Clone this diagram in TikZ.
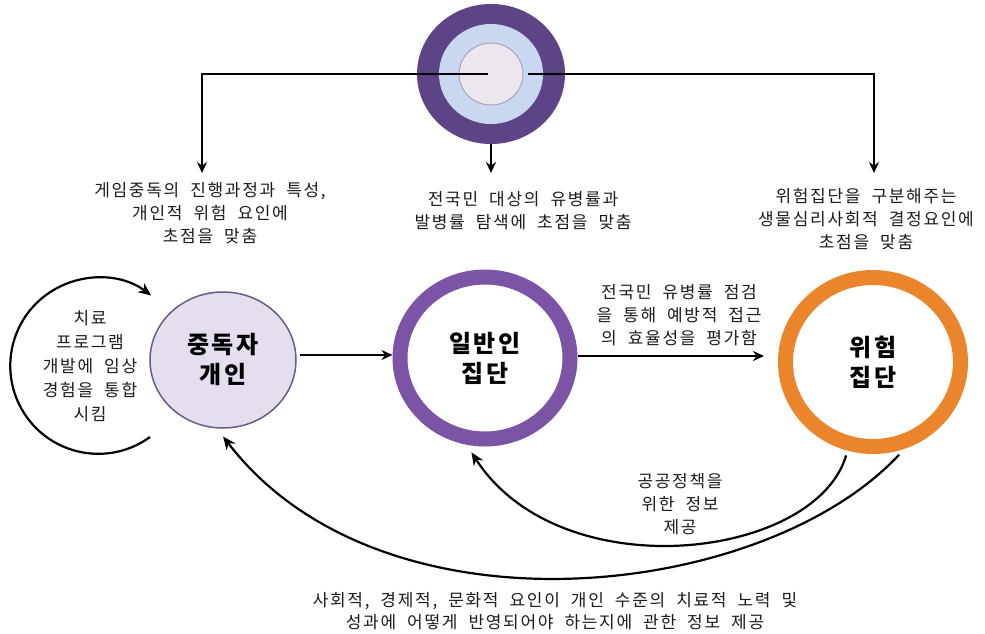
\documentclass[tikz,border=0pt]{standalone}
\usepackage{fontspec}
\setmainfont{Noto Sans CJK KR}[LetterSpace=10,WordSpace=2]
\usetikzlibrary{arrows.meta,shapes.geometric}
\definecolor{topouter}{HTML}{5C4486}
\definecolor{topmid}{HTML}{C9D8F0}
\definecolor{topinner}{HTML}{ECE6EF}
\definecolor{topinedge}{HTML}{A9A2B8}
\definecolor{addictfill}{HTML}{E5DEEE}
\definecolor{addictedge}{HTML}{6C5B86}
\definecolor{genring}{HTML}{7B54A6}
\definecolor{riskring}{HTML}{EA852C}
\definecolor{txtcol}{HTML}{1C1C1C}
\tikzset{
  txt/.style={align=center,font=\fontsize{17}{23}\selectfont,text=txtcol,inner sep=0pt},
  big/.style={align=center,font=\fontsize{24}{30}\selectfont\bfseries,text=black},
  arr/.style={-{Stealth[length=11pt,width=10pt]},line width=1.8pt},
  carr/.style={-{Stealth[length=13pt,width=11pt]},line width=2.2pt},
}
\begin{document}
\begin{tikzpicture}[x=1pt,y=-1pt]
\useasboundingbox (0,0) rectangle (985,633);
\fill[white] (0,0) rectangle (985,633);
% top circle
\node[ellipse,fill=topouter,minimum width=148pt,minimum height=140pt,inner sep=0pt] (top) at (491,74) {};
\node[ellipse,fill=topmid,minimum width=104pt,minimum height=100pt,inner sep=0pt] (topmidc) at (491,74) {};
\node[ellipse,fill=topinner,draw=topinedge,line width=1pt,minimum width=64pt,minimum height=62pt,inner sep=0pt] (topin) at (491,74) {};
% main nodes
\node[ellipse,draw=addictedge,fill=addictfill,line width=1.5pt,minimum width=146pt,minimum height=136pt,inner sep=0pt,big] (addict) at (223,360) {중독자\\개인};
\node[ellipse,draw=genring,line width=15pt,minimum width=170pt,minimum height=162pt,inner sep=0pt,big] (general) at (485,358) {일반인\\집단};
\node[ellipse,draw=riskring,line width=15pt,minimum width=175pt,minimum height=169pt,inner sep=0pt,big] (risk) at (873,362) {위험\\집단};
% texts
\node[txt] (lefttext) at (210,213) {게임중독의 진행과정과 특성,\\개인적 위험 요인에\\초점을 맞춤};
\node[txt] (midtext) at (523,211) {전국민 대상의 유병률과\\발병률 탐색에 초점을 맞춤};
\node[txt] (righttext) at (866,219) {위험집단을 구분해주는\\생물심리사회적 결정요인에\\초점을 맞춤};
\node[txt,font=\fontsize{17}{24}\selectfont] (looptext) at (90,366) {치료\\프로그램\\개발에 임상\\경험을 통합\\시킴};
\node[txt] (arrowtext) at (679,315) {전국민 유병률 점검\\을 통해 예방적 접근\\의 효율성을 평가함};
\node[txt] (policy) at (680,504) {공공정책을\\위한 정보\\제공};
\node[txt,font=\fontsize{17}{22}\selectfont] (bottomtext) at (555,611) {사회적, 경제적, 문화적 요인이 개인 수준의 치료적 노력 및\\성과에 어떻게 반영되어야 하는지에 관한 정보 제공};
% top connectors
\coordinate (ltip) at (202,173);
\coordinate (rtip) at (874,173);
\coordinate (mtip) at (491,173);
\draw[arr] ([xshift=-3pt]top.center) -| (ltip);
\draw[arr] ([xshift=37pt]top.center) -| (rtip);
\draw[arr] (top.south) -- (mtip);
% horizontal arrows
\draw[arr] ([xshift=3pt,yshift=5pt]addict.east) -- ([yshift=3pt]general.west);
\draw[arr] ([yshift=2pt]general.east) -- ([xshift=-14pt,yshift=6pt]risk.west);
% self loop
\coordinate (loopstart) at (150,437);
\draw[carr] (loopstart) arc[start angle=54,end angle=307,radius=88];
% bottom curves
\draw[carr,shorten <=5pt,shorten >=9pt] (risk.254) .. controls (815,560) and (560,590) .. (general.258);
\draw[carr,shorten <=8pt,shorten >=10pt] (risk.290) .. controls (764,600) and (382,644) .. (addict.265);
\end{tikzpicture}
\end{document}
